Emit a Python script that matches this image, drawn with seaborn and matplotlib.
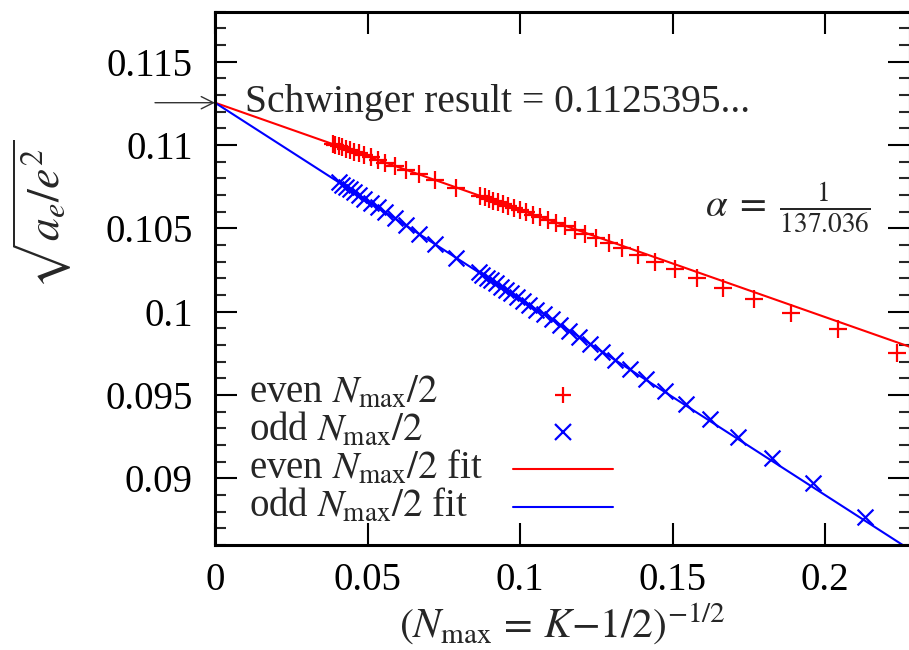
import matplotlib
matplotlib.use("Agg")
import numpy as np
import pandas as pd
import matplotlib.pyplot as plt
import seaborn as sns
from matplotlib.ticker import FixedLocator, FixedFormatter, MultipleLocator
from matplotlib.lines import Line2D

# ---------------- data ----------------
even_x = [0.0386, 0.0395, 0.0406, 0.0417, 0.0429, 0.0442, 0.0456, 0.0472, 0.0490,
          0.0510, 0.0533, 0.0559, 0.0589, 0.0625, 0.0668, 0.0722, 0.0791,
          0.0870, 0.0884, 0.0898, 0.0913, 0.0928, 0.0945, 0.0962, 0.0981, 0.1000,
          0.1021, 0.1043, 0.1066, 0.1091, 0.1118, 0.1147, 0.1179, 0.1213, 0.1250,
          0.1291, 0.1336, 0.1387, 0.1443, 0.1508, 0.1581, 0.1667, 0.1768, 0.1890,
          0.2041, 0.2236]
even_y = [0.11006, 0.11000, 0.10993, 0.10986, 0.10978, 0.10970, 0.10961, 0.10951, 0.10939,
          0.10926, 0.10911, 0.10895, 0.10875, 0.10852, 0.10824, 0.10790, 0.10745,
          0.10695, 0.10686, 0.10677, 0.10667, 0.10657, 0.10646, 0.10635, 0.10623, 0.10611,
          0.10597, 0.10583, 0.10568, 0.10552, 0.10533, 0.10513, 0.10492, 0.10468, 0.10442,
          0.10412, 0.10380, 0.10343, 0.10300, 0.10255, 0.10205, 0.10145, 0.10075, 0.09995,
          0.09895, 0.09752]
odd_x = [0.0406, 0.0417, 0.0429, 0.0442, 0.0456, 0.0472, 0.0490, 0.0510, 0.0533,
         0.0559, 0.0589, 0.0625, 0.0668, 0.0722, 0.0791,
         0.0864, 0.0877, 0.0891, 0.0905, 0.0921, 0.0937, 0.0953, 0.0971, 0.0990,
         0.1010, 0.1031, 0.1054, 0.1078, 0.1104, 0.1132, 0.1162, 0.1195, 0.1231,
         0.1270, 0.1313, 0.1361, 0.1414, 0.1474, 0.1543, 0.1622, 0.1715, 0.1826,
         0.1961, 0.2132]
odd_y = [0.10776, 0.10763, 0.10749, 0.10734, 0.10717, 0.10698, 0.10677, 0.10654, 0.10627,
         0.10596, 0.10561, 0.10518, 0.10468, 0.10404, 0.10323,
         0.10237, 0.10222, 0.10205, 0.10189, 0.10170, 0.10151, 0.10132, 0.10111, 0.10089,
         0.10065, 0.10041, 0.10013, 0.09985, 0.09955, 0.09922, 0.09886, 0.09848, 0.09806,
         0.09760, 0.09711, 0.09655, 0.09594, 0.09525, 0.09445, 0.09355, 0.09250, 0.09125,
         0.08975, 0.08770]

schwinger = 0.1125395
even_fit_slope = -0.0643
odd_fit_slope = -0.1177
fit_x = [0.0, 0.2290]

x_ticks = [0, 0.05, 0.1, 0.15, 0.2]
x_tick_labels = ["0", "0.05", "0.1", "0.15", "0.2"]
y_ticks = [0.09, 0.095, 0.1, 0.105, 0.11, 0.115]
y_tick_labels = ["0.09", "0.095", "0.1", "0.105", "0.11", "0.115"]

legend_labels = [r"even $N_{\rm max}/2$", r"odd $N_{\rm max}/2$",
                 r"even $N_{\rm max}/2$ fit", r"odd $N_{\rm max}/2$ fit"]

# ---------------- style ----------------
sns.set_style("ticks")
plt.rcParams["font.family"] = ["Liberation Serif", "DejaVu Serif"]
plt.rcParams["mathtext.fontset"] = "stix"
plt.rcParams["mathtext.rm"] = "Liberation Serif"

RED = "#ff0000"
BLUE = "#0000ff"
FS = 28

fig = plt.figure(figsize=(9.09, 6.5), dpi=100)
ax = fig.add_axes([215 / 909, 105 / 650, 695 / 909, 533.3 / 650])

even_df = pd.DataFrame({"x": even_x, "y": even_y})
odd_df = pd.DataFrame({"x": odd_x, "y": odd_y})
fit_df = pd.DataFrame({
    "x": fit_x,
    "even": [schwinger + even_fit_slope * v for v in fit_x],
    "odd": [schwinger + odd_fit_slope * v for v in fit_x],
})

sns.lineplot(data=fit_df, x="x", y="even", color=RED, lw=1.5, ax=ax)
sns.lineplot(data=fit_df, x="x", y="odd", color=BLUE, lw=1.5, ax=ax)
sns.scatterplot(data=even_df, x="x", y="y", marker="+", s=160, color=RED,
                linewidth=1.6, ax=ax, zorder=3)
sns.scatterplot(data=odd_df, x="x", y="y", marker="x", s=130, color=BLUE,
                linewidth=1.6, ax=ax, zorder=3)

ax.set_xlim(0, 695 / 3050)
ax.set_ylim(0.086, 0.118)

ax.xaxis.set_major_locator(FixedLocator(x_ticks))
ax.xaxis.set_major_formatter(FixedFormatter(x_tick_labels))
ax.yaxis.set_major_locator(FixedLocator(y_ticks))
ax.yaxis.set_major_formatter(FixedFormatter(y_tick_labels))
ax.yaxis.set_minor_locator(MultipleLocator(0.001))

ax.tick_params(axis="both", which="major", direction="in", length=16, width=1.5,
               top=True, right=True, labelsize=FS, colors="black")
ax.tick_params(axis="y", which="major", pad=16)
ax.tick_params(axis="x", which="major", pad=12)
ax.tick_params(axis="y", which="minor", direction="in", length=8, width=1.5,
               left=True, right=True)
for sp in ax.spines.values():
    sp.set_linewidth(2.2)
    sp.set_color("black")

ax.set_xlabel(r"$(N_{\rm max}\,=\,K{-}1/2)^{-1/2}$", fontsize=30, labelpad=2)
ax.set_ylabel(r"$\sqrt{a_e/e^2}$", fontsize=33)
ax.yaxis.set_label_coords(-0.203, 0.62)

# Schwinger annotation
ax.annotate("", xy=(0, schwinger), xytext=(-60, 0), textcoords="offset pixels",
            annotation_clip=False,
            arrowprops=dict(arrowstyle="->", color="#333333", lw=1.0,
                            shrinkA=0, shrinkB=0, mutation_scale=22))
ax.text(0.043, 0.812, "Schwinger result = 0.1125395...", transform=ax.transAxes,
        fontsize=28.5, ha="left", va="baseline")
ax.text(0.9425, 0.615, r"$\alpha\;=\;\frac{1}{137.036}$", transform=ax.transAxes,
        fontsize=FS, ha="right", va="baseline")

# legend: labels left-aligned, keys in a column on the right
for i, lab in enumerate(legend_labels):
    ax.text(0.049, 0.2657 - i * 0.0709, lab, transform=ax.transAxes,
            fontsize=FS, ha="left", va="baseline")
handles = [
    Line2D([], [], ls="none", marker="+", ms=12, mew=1.6, color=RED),
    Line2D([], [], ls="none", marker="x", ms=11, mew=1.6, color=BLUE),
    Line2D([], [], color=RED, lw=1.5),
    Line2D([], [], color=BLUE, lw=1.5),
]
ax.legend(handles, [""] * 4, loc="center left", bbox_to_anchor=(0.4294, 0.169),
          frameon=False, fontsize=FS, handlelength=100 / 38.9, handletextpad=0,
          borderpad=0, borderaxespad=0, labelspacing=0.01)

fig.savefig("out.png", dpi=100)
